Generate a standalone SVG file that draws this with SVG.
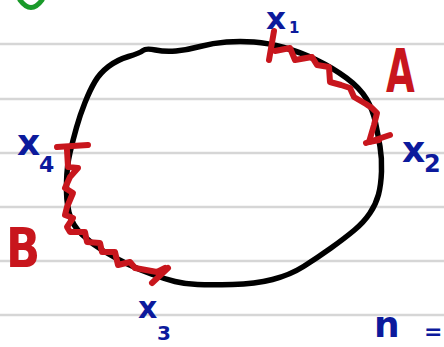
<svg xmlns="http://www.w3.org/2000/svg" width="444" height="347" viewBox="0 0 444 347">
<style>
.rule{stroke:#d6d6d6;stroke-width:2.5}
.ink{fill:none;stroke-linecap:round;stroke-linejoin:round}
.blk{stroke:#000;stroke-width:5.5}
.red{stroke:#c8161d;stroke-width:6}
.lb{font-family:"DejaVu Sans","Liberation Sans",sans-serif;font-weight:bold;fill:#0c1a9c}
.lr{font-family:"DejaVu Sans","Liberation Sans",sans-serif;font-weight:bold;fill:#c8161d}
</style>
<rect width="444" height="347" fill="#fff"/>
<g id="rules">
<line class="rule" x1="0" y1="44" x2="444" y2="44"/>
<line class="rule" x1="0" y1="99" x2="444" y2="99"/>
<line class="rule" x1="0" y1="153" x2="444" y2="153"/>
<line class="rule" x1="0" y1="207" x2="444" y2="207"/>
<line class="rule" x1="0" y1="261" x2="444" y2="261"/>
<line class="rule" x1="0" y1="315" x2="444" y2="315"/>
</g>
<path class="ink" d="M20,0 Q31,15 42,0" stroke="#1a9a2a" stroke-width="5"/>
<g id="loop">
<path class="ink blk" d="M155.5,50 Q165,52 176,51 Q187,50 200,46.5 Q213,43 226.5,42 Q240,41 254,42 Q268,43 284,47.5 Q300,52 316.5,60 Q333,68 346.5,78 Q360,88 366.5,99 Q373,110 375.5,122.5 Q378,135 380,146.5 Q382,158 381.5,171.5 Q381,185 378.5,194.5 Q376,204 370,213 Q364,222 354.5,230 Q345,238 331,248 Q317,258 303.5,266.5 Q290,275 272.5,279.5 Q255,284 232.5,284.5 Q210,285 197.5,284.5 Q185,284 175,281.5 Q165,279 152.5,274.5 Q140,270 127.5,264 Q115,258 103.5,251 Q92,244 82,234.5 Q72,225 69,212.5 Q66,200 66.5,182.5 Q67,165 70,152.5 Q73,140 76.5,127.5 Q80,115 85,102.5 Q90,90 95,81.5 Q100,73 108.5,66.5 Q117,60 128.5,56.5 Q140,53 143,50.5 Q146,48 155.5,50 Z"/>
</g>
<g id="arcA">
<path class="ink red" d="M274,31 L269,60"/>
<polyline class="ink red" points="275,51 290,48 295,60 312,57 317,65 329,67 330,82 341,85 350,88 354,97 366,104 372,108 377,113 374,125 369,142 379,140"/>
<path class="ink red" d="M366,143 L390,135"/>
</g>
<g id="arcB">
<path class="ink red" d="M57,147 L88,145"/>
<polyline class="ink red" points="67,150 68,167 78,168 70,177 65,188 73,193 67,207 65,215 73,218 67,227 70,232 85,232 87,242 100,243 102,252 115,252 118,265 130,262 135,268 157,272 165,268"/>
<path class="ink red" d="M152,283 L168,268"/>
</g>
<g id="labels">
<text class="lb" x="266" y="29" font-size="31">x</text>
<text class="lb" x="289" y="33" font-size="15">1</text>
<text class="lb" x="402" y="162" font-size="36">x</text>
<text class="lb" x="424" y="172" font-size="24">2</text>
<text class="lb" x="17" y="155" font-size="36">x</text>
<text class="lb" x="39" y="172" font-size="22">4</text>
<text class="lb" x="138" y="318" font-size="30">x</text>
<text class="lb" x="157" y="340" font-size="20">3</text>
<text class="lr" transform="translate(386,92) scale(0.62,1)" font-size="60">A</text>
<text class="lr" transform="translate(6,267) scale(0.8,1)" font-size="56">B</text>
<text class="lb" x="374" y="337" font-size="36">n</text>
<text class="lb" x="424" y="339" font-size="22">=</text>
</g>
</svg>
